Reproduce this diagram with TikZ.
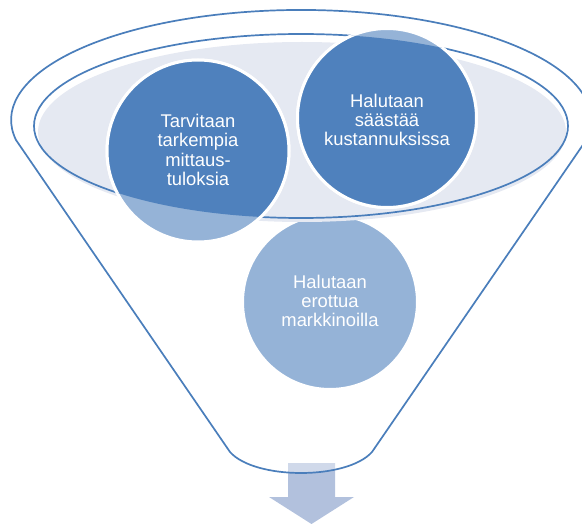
\documentclass[tikz,border=0pt]{standalone}
\usepackage{fontspec}
\setmainfont{Liberation Sans}
\definecolor{lineblue}{HTML}{4A7EBB}
\definecolor{bubbledark}{HTML}{4F81BD}
\definecolor{bubblelight}{HTML}{95B3D7}
\definecolor{innerfill}{HTML}{E5E9F2}
\definecolor{arrowblue}{HTML}{B2C1DD}
\begin{document}
\begin{tikzpicture}[x=1pt,y=-1pt,
  funnelline/.style={draw=lineblue, line width=1.7pt},
  bubble/.style={circle, inner sep=0pt, minimum size=#1, fill=bubblelight, draw=white, line width=3pt},
  bubbletext/.style={text=white, align=center, inner sep=0pt, font=\fontsize{18.4}{19.2}\selectfont}]
\useasboundingbox (0,0) rectangle (582,524);

% output arrow below the funnel
\fill[arrowblue] (288,463) -- (335,463) -- (335,497) -- (354,497) -- (311.5,524)
  -- (269,497) -- (288,497) -- cycle;

% funnel body
\path[funnelline, fill=white, fill opacity=0.4]
  (16,140) arc[start angle=169.5, end angle=370.5, x radius=290, y radius=110]
  -- (372,452) .. controls (347,480) and (255,480) .. (230,452) -- cycle;

% lowest bubble, partly behind the funnel mouth
\node[bubble=175pt] (mid) at (330,302) {};

% funnel mouth and its rim
\fill[innerfill] (302,132) ellipse[x radius=264, y radius=90];
\draw[funnelline] (301,126) ellipse[x radius=267, y radius=92];

% upper bubbles, light outside the mouth
\node[bubble=182pt] (left) at (198,151) {};
\node[bubble=179pt] (right) at (387,118) {};

% upper bubbles, dark inside the mouth
\begin{scope}
  \clip (301,126) ellipse[x radius=267, y radius=92];
  \path[fill=bubbledark, draw=white, line width=3pt] (left) circle[radius=91];
  \path[fill=bubbledark, draw=white, line width=3pt] (right) circle[radius=89.5];
\end{scope}

% texts
\node[bubbletext] (lefttext) at ([yshift=1]left.center) {Tarvitaan\\tarkempia\\mittaus-\\tuloksia};
\node[bubbletext] (righttext) at ([yshift=-2]right.center) {Halutaan\\säästää\\kustannuksissa};
\node[bubbletext] (midtext) at ([yshift=1]mid.center) {Halutaan\\erottua\\markkinoilla};
\end{tikzpicture}
\end{document}
